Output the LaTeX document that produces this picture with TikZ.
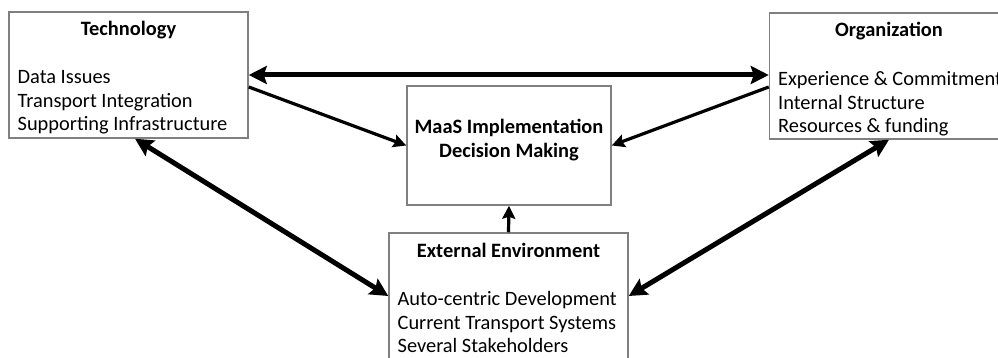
\documentclass[tikz,border=0pt]{standalone}
\usepackage{fontspec}
\setmainfont{Carlito}
\usepackage{tikz}
\usetikzlibrary{arrows.meta}

\tikzset{
  txt/.style={inner sep=0pt, font=\fontsize{10.2}{11.75}\selectfont},
  ttl/.style={txt, font=\fontsize{10.2}{12}\selectfont\bfseries},
  lst/.style={txt, align=left, anchor=north west}
}

\begin{document}
\begin{tikzpicture}[x=0.5pt, y=-0.5pt]
\useasboundingbox (0,0) rectangle (998,358);

\begin{scope}[every node/.style={rectangle, draw=black!50, line width=0.75pt,
                                 minimum width=119.5pt, minimum height=63pt}]
  \node (tech) at (128.5,75) {};
  \node (org) at (889,76) {};
  \node[minimum width=102pt, minimum height=59.5pt] (maas) at (509,145.5) {};
  \node (ext) at (508.5,296) {};
\end{scope}

% box contents
\node[ttl, anchor=north] (techT) at ([yshift=-4.75pt]tech.north) {Technology};
\node[lst] (techL) at ([xshift=4.5pt,yshift=-29.5pt]tech.north west)
  {Data Issues\\Transport Integration\\Supporting Infrastructure};
\node[ttl, anchor=north] (orgT) at ([yshift=-4.75pt]org.north) {Organization};
\node[lst] (orgL) at ([xshift=4.5pt,yshift=-29.5pt]org.north west)
  {Experience \& Commitment\\Internal Structure\\Resources \& funding};
\node[ttl, align=center] (maasT) at ([yshift=2.5pt]maas.center)
  {MaaS Implementation\\Decision Making};
\node[ttl, anchor=north] (extT) at ([yshift=-5.25pt]ext.north) {External Environment};
\node[lst] (extL) at ([xshift=4.5pt,yshift=-29.5pt]ext.north west)
  {Auto-centric Development\\Current Transport Systems\\Several Stakeholders};

\begin{scope}[>={Stealth[length=9pt, width=9pt, inset=1.5pt]},
              every edge/.style={draw=black, line width=2.5pt}]
    \path[<->] (tech.east) edge (tech.east -| org.west);
    \path[<->] ([xshift=3.25pt]tech.south) edge (ext.west);
    \path[<->] (org.south) edge (ext.east);
\end{scope}
\begin{scope}[>={Stealth[length=6.5pt, width=6.5pt, inset=1pt]},
              every edge/.style={draw=black, line width=1.6pt}]
    \path[->] ([yshift=-6pt]tech.east) edge (maas.west);
    \path[->] ([yshift=-5.5pt]org.west) edge (maas.east);
    \path[->] (ext.north) edge (maas.south);
\end{scope}

\end{tikzpicture}
\end{document}
